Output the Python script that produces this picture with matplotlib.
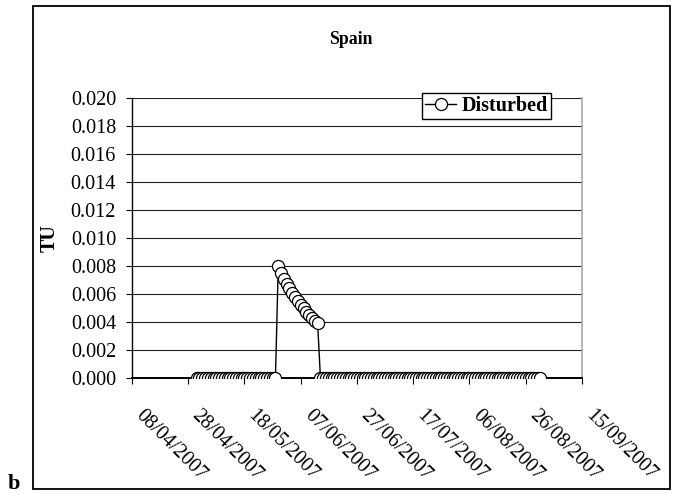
import matplotlib
matplotlib.use("Agg")
import matplotlib.pyplot as plt
import matplotlib.dates as mdates
import matplotlib.transforms as mtransforms
from matplotlib.patches import Rectangle
import pandas as pd

plt.rcParams['font.family'] = ['Liberation Serif', 'DejaVu Serif']

# Daily TU series for the disturbed site
first_day = "2007-05-01"
last_day = "2007-08-31"
before_event = [0.0] * 29
event_decay = [0.0080, 0.0075, 0.0071, 0.0067, 0.0064, 0.0061, 0.0058, 0.0055,
               0.0052, 0.0050, 0.0047, 0.0045, 0.0043, 0.0041, 0.0039]
after_event = [0.0] * 79
tu_values = before_event + event_decay + after_event
dates = pd.date_range(first_day, last_day, freq="D")

axis_start = "2007-04-08"
axis_end = "2007-09-15"
tick_step_days = 20
y_ticks = [0.000, 0.002, 0.004, 0.006, 0.008, 0.010, 0.012, 0.014, 0.016, 0.018, 0.020]

W, H = 679, 494
FS = 14.5
fig = plt.figure(figsize=(W / 100, H / 100), dpi=100)
ax = fig.add_axes([132 / W, 1 - 378 / H, 450 / W, 280 / H])

ax.plot(dates, tu_values, color="black", lw=1.0, marker="o", markersize=8.7,
        markerfacecolor="white", markeredgecolor="black", markeredgewidth=0.9,
        label="Disturbed", zorder=3)

x0, x1 = pd.Timestamp(axis_start), pd.Timestamp(axis_end)
ax.set_xlim(x0, x1)
ax.set_ylim(0, 0.020)
ax.set_yticks(y_ticks)
ax.yaxis.set_major_formatter(plt.FuncFormatter(lambda v, p: f"{v:.3f}"))
ax.set_xticks(pd.date_range(x0, x1, freq=f"{tick_step_days}D"))
ax.xaxis.set_major_formatter(mdates.DateFormatter("%d/%m/%Y"))

ax.grid(axis="y", color="#222222", lw=0.8)
ax.set_axisbelow(True)
ax.spines["top"].set_visible(False)
ax.spines["right"].set_color("#aaaaaa")
ax.spines["right"].set_linewidth(1.2)
ax.spines["left"].set_linewidth(1.0)
ax.spines["bottom"].set_linewidth(1.4)

ax.tick_params(axis="both", direction="out", length=4.5, width=0.8,
               labelsize=FS)
ax.tick_params(axis="y", pad=7)
ax.tick_params(axis="x", pad=4)
shift = mtransforms.ScaledTranslation(13 / 100, -16 / 100, fig.dpi_scale_trans)
for lab in ax.get_xticklabels():
    lab.set_rotation(-45)
    lab.set_ha("left")
    lab.set_va("top")
    lab.set_rotation_mode("anchor")
    lab.set_transform(lab.get_transform() + shift)

fig.text(50 / W, 1 - 238 / H, "TU", rotation=90, ha="center", va="center",
         fontsize=FS, fontweight="bold")

leg = ax.legend(loc="lower right", bbox_to_anchor=(551 / W, 1 - 119 / H),
                bbox_transform=fig.transFigure, frameon=True, fancybox=False,
                edgecolor="black", framealpha=1,
                prop={"weight": "bold", "size": FS}, handlelength=1.5,
                handletextpad=0.3, borderpad=0.15, borderaxespad=0)
leg.get_frame().set_linewidth(1.0)

fig.text(351 / W, 1 - 40 / H, "Spain", ha="center", va="center",
         fontsize=12.8, fontweight="bold")

fig.patches.append(Rectangle((33 / W, 1 - 489 / H), 637 / W, 483 / H,
                             transform=fig.transFigure, fill=False,
                             edgecolor="black", lw=1.3))
fig.text(8 / W, 1 - 474 / H, "b", ha="left", va="top", fontsize=16,
         fontweight="bold")

fig.savefig("out.png", dpi=100)
